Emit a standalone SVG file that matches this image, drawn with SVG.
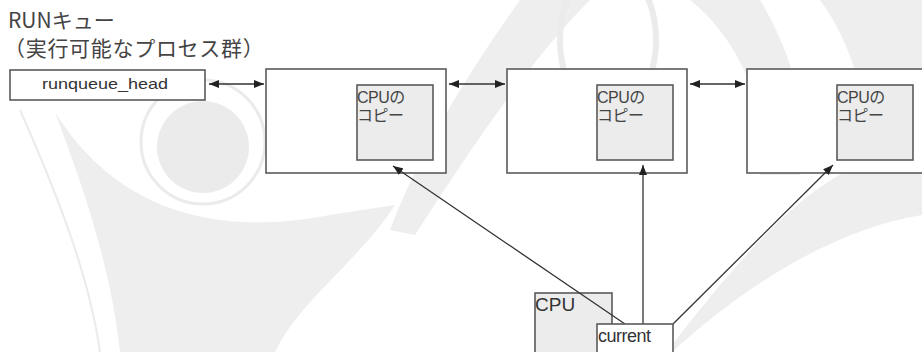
<svg xmlns="http://www.w3.org/2000/svg" width="922" height="352" viewBox="0 0 922 352">
<style>
.bg{fill:#eeeeee;stroke:none}
.bgl{fill:none;stroke:#ebebeb}
.box{fill:#ffffff;stroke:#5a5a5a;stroke-width:1.6}
.inner{fill:#ececec;stroke:#5a5a5a;stroke-width:1.6}
.t{font-family:"Liberation Sans","Noto Sans CJK JP",sans-serif;fill:#333333}
.j{font-family:"Noto Sans CJK JP","Liberation Sans",sans-serif;fill:#444444}
.k{font-family:"Liberation Sans","Noto Sans CJK JP",sans-serif;fill:#444444;font-size:16px;letter-spacing:-0.5px}
.c{stroke:#333333;stroke-width:1.3;fill:none}
</style>
<defs>
<marker id="ah" viewBox="0 0 10 8" refX="10" refY="4" markerWidth="10" markerHeight="8" markerUnits="userSpaceOnUse" orient="auto-start-reverse">
<path d="M0,0 L10,4 L0,8 Z" fill="#222222"/>
</marker>
</defs>
<rect width="922" height="352" fill="#ffffff"/>
<g id="watermark">
<path class="bg" d="M55,112 C110,200 200,240 330,215 L395,205 C360,260 300,300 275,352 L120,352 C110,260 80,180 55,112 Z"/>
<circle cx="203" cy="147" r="46" fill="#ebebeb"/>
<circle class="bgl" cx="203" cy="142" r="62" stroke-width="3"/>
<path class="bg" d="M390,230 C420,150 470,70 520,0 L590,0 C530,60 470,150 415,235 Z"/>
<ellipse class="bgl" cx="608" cy="40" rx="48" ry="75" stroke-width="6"/>
<path class="bg" d="M690,0 C740,40 770,110 760,175 L800,175 C810,110 790,50 760,0 Z"/>
<path class="bg" d="M820,0 C850,40 870,100 870,175 L922,175 L922,0 Z"/>
<path class="bg" d="M672,345 C730,270 790,200 845,172 L922,172 L922,215 C830,230 740,290 672,352 Z"/>
<path class="bgl" d="M20,110 C60,200 90,280 100,352" stroke-width="2"/>
</g>
<g id="title">
<text class="j" x="8" y="28" font-size="21">RUNキュー</text>
<text class="j" x="4" y="56" font-size="21" letter-spacing="0.7">（実行可能なプロセス群）</text>
</g>
<g id="runqueue_head">
<rect class="box" x="10" y="70" width="195" height="30"/>
<text class="t" x="105" y="89" font-size="15" text-anchor="middle" textLength="126" lengthAdjust="spacingAndGlyphs">runqueue_head</text>
</g>
<g id="proc1">
<rect class="box" x="266" y="69" width="180" height="104"/>
<rect class="inner" x="357" y="85" width="76" height="75"/>
<text class="k" x="357" y="103">CPUの</text>
<text class="k" x="357" y="121">コピー</text>
</g>
<g id="proc2">
<rect class="box" x="507" y="69" width="180" height="104"/>
<rect class="inner" x="597" y="85" width="76" height="75"/>
<text class="k" x="597" y="103">CPUの</text>
<text class="k" x="597" y="121">コピー</text>
</g>
<g id="proc3">
<rect class="box" x="747" y="69" width="180" height="104"/>
<rect class="inner" x="837" y="85" width="76" height="75"/>
<text class="k" x="837" y="103">CPUの</text>
<text class="k" x="837" y="121">コピー</text>
</g>
<g id="cpu">
<rect class="inner" x="535" y="293" width="77" height="70"/>
<text class="t" x="535" y="311" font-size="19" fill="#444444">CPU</text>
</g>
<g id="connectors">
<line class="c" x1="209" y1="84" x2="264" y2="84" marker-start="url(#ah)" marker-end="url(#ah)"/>
<line class="c" x1="449" y1="84" x2="505" y2="84" marker-start="url(#ah)" marker-end="url(#ah)"/>
<line class="c" x1="690" y1="84" x2="745" y2="84" marker-start="url(#ah)" marker-end="url(#ah)"/>
<line class="c" x1="625" y1="324" x2="393" y2="166" marker-end="url(#ah)"/>
<line class="c" x1="643" y1="324" x2="643" y2="165" marker-end="url(#ah)"/>
<line class="c" x1="673" y1="324" x2="833" y2="165" marker-end="url(#ah)"/>
</g>
<g id="current">
<rect class="box" x="597" y="324" width="76" height="40"/>
<text class="t" x="598" y="342" font-size="18" letter-spacing="-0.5">current</text>
</g>
</svg>
